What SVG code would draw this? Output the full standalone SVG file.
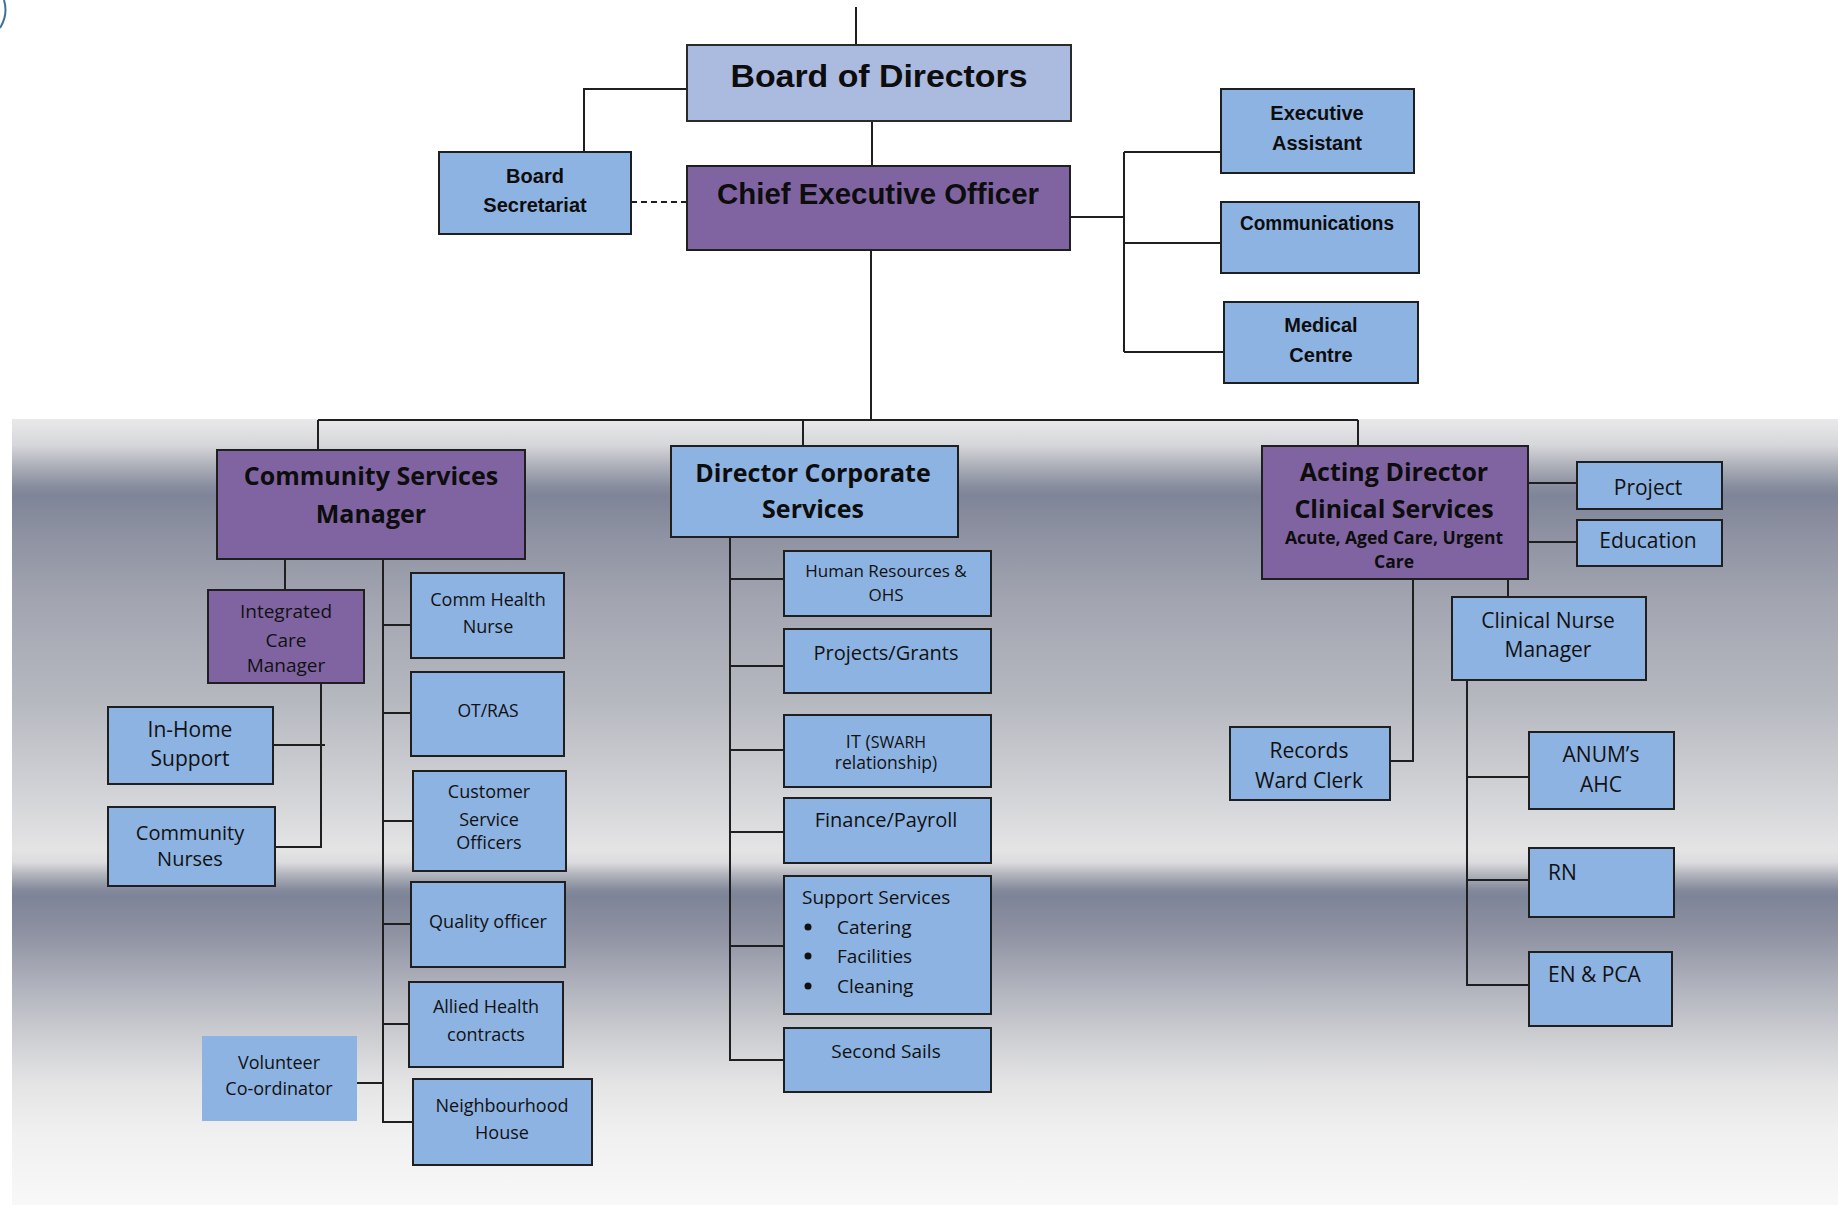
<svg xmlns="http://www.w3.org/2000/svg" width="1838" height="1205" viewBox="0 0 1838 1205">
<defs>
<linearGradient id="bg" gradientUnits="userSpaceOnUse" x1="0" y1="419" x2="0" y2="1205">
<stop offset="0" stop-color="#e9e9eb"/>
<stop offset="0.033" stop-color="#d6d7da"/>
<stop offset="0.061" stop-color="#abaeb7"/>
<stop offset="0.087" stop-color="#868c9d"/>
<stop offset="0.099" stop-color="#7f8598"/>
<stop offset="0.145" stop-color="#8d91a1"/>
<stop offset="0.230" stop-color="#a2a5b0"/>
<stop offset="0.357" stop-color="#b6b8c0"/>
<stop offset="0.485" stop-color="#d4d5d8"/>
<stop offset="0.548" stop-color="#e4e4e5"/>
<stop offset="0.564" stop-color="#dcdcdf"/>
<stop offset="0.580" stop-color="#b0b3bb"/>
<stop offset="0.599" stop-color="#848a9c"/>
<stop offset="0.608" stop-color="#7e8498"/>
<stop offset="0.654" stop-color="#8e92a2"/>
<stop offset="0.718" stop-color="#aeb1bb"/>
<stop offset="0.781" stop-color="#cbccd0"/>
<stop offset="0.845" stop-color="#e4e4e5"/>
<stop offset="0.908" stop-color="#f0f0f0"/>
<stop offset="1" stop-color="#f8f8f8"/>
</linearGradient>
<clipPath id="icmclip"><rect x="208" y="590" width="156" height="92"/></clipPath>
</defs>
<style>
.b{fill:#8db3e2;stroke:#1f1f1f;stroke-width:2}
.p{fill:#8064a2;stroke:#1f1f1f;stroke-width:2}
.bd{fill:#abbadf;stroke:#2a2a2a;stroke-width:2}
.c{fill:none;stroke:#1f1f1f;stroke-width:2}
.t{font-family:"Liberation Sans",Arial,sans-serif;font-weight:bold;fill:#0d0d0d;text-anchor:middle}
.s{font-family:"Open Sans","Noto Sans",sans-serif;fill:#111111;text-anchor:middle}
.sb{font-family:"Open Sans","Noto Sans",sans-serif;font-weight:bold;fill:#0d0d0d;text-anchor:middle}
.l{text-anchor:start}
</style>
<rect x="0" y="0" width="1838" height="1205" fill="#ffffff"/>
<rect x="12" y="419" width="1826" height="786" fill="url(#bg)"/>
<path d="M4,0 C7,10 5,20 0,28" fill="none" stroke="#3f7199" stroke-width="2"/>

<g id="connectors">
<path class="c" d="M856,7 V45"/>
<path class="c" d="M688,89 H584 V152"/>
<path class="c" d="M872,121 V166"/>
<path class="c" d="M631,202 H688" stroke-dasharray="6,4"/>
<path class="c" d="M1070,217 H1124"/>
<path class="c" d="M1124,152 V352"/>
<path class="c" d="M1124,152 H1221 M1124,243 H1221 M1124,352 H1224"/>
<path class="c" d="M871,250 V420"/>
<path class="c" d="M318,420 H1358"/>
<path class="c" d="M318,420 V450 M803,420 V446 M1358,420 V446"/>
<path class="c" d="M285,559 V590"/>
<path class="c" d="M321,683 V847 H275"/>
<path class="c" d="M273,745 H325"/>
<path class="c" d="M383,559 V1122 H413"/>
<path class="c" d="M383,625 H411 M383,713 H411 M383,821 H413 M383,924 H411 M383,1024 H409 M357,1083 H383"/>
<path class="c" d="M730,537 V1060 H784"/>
<path class="c" d="M730,579 H784 M730,666 H784 M730,750 H784 M730,832 H784 M730,946 H784"/>
<path class="c" d="M1528,483 H1577 M1528,542 H1577"/>
<path class="c" d="M1508,579 V597"/>
<path class="c" d="M1413,579 V761 H1390"/>
<path class="c" d="M1467,680 V985 H1529"/>
<path class="c" d="M1467,777 H1529 M1467,880 H1529"/>
</g>

<g id="board"><rect class="bd" x="687" y="45" width="384" height="76"/><text class="t" x="879" y="87" font-size="32" textLength="297" lengthAdjust="spacingAndGlyphs">Board of Directors</text></g>
<g id="ceo"><rect class="p" x="687" y="166" width="383" height="84"/><text class="t" x="878" y="204" font-size="29" textLength="322" lengthAdjust="spacingAndGlyphs">Chief Executive Officer</text></g>
<g id="board-secretariat"><rect class="b" x="439" y="152" width="192" height="82"/><text class="t" x="535" y="183" font-size="20">Board</text><text class="t" x="535" y="212" font-size="20">Secretariat</text></g>
<g id="executive-assistant"><rect class="b" x="1221" y="89" width="193" height="84"/><text class="t" x="1317" y="120" font-size="20">Executive</text><text class="t" x="1317" y="150" font-size="20">Assistant</text></g>
<g id="communications"><rect class="b" x="1221" y="202" width="198" height="71"/><text class="t" x="1317" y="230" font-size="20" textLength="154" lengthAdjust="spacingAndGlyphs">Communications</text></g>
<g id="medical-centre"><rect class="b" x="1224" y="302" width="194" height="81"/><text class="t" x="1321" y="332" font-size="20">Medical</text><text class="t" x="1321" y="362" font-size="20">Centre</text></g>

<g id="community-services-manager"><rect class="p" x="217" y="450" width="308" height="109"/><text class="sb" x="371" y="485" font-size="25">Community Services</text><text class="sb" x="371" y="523" font-size="25">Manager</text></g>
<g id="integrated-care-manager"><rect class="p" x="208" y="590" width="156" height="93"/><g clip-path="url(#icmclip)"><text class="s" x="286" y="618" font-size="19">Integrated</text><text class="s" x="286" y="647" font-size="19">Care</text><text class="s" x="286" y="672" font-size="19">Manager</text></g></g>
<g id="in-home-support"><rect class="b" x="108" y="707" width="165" height="77"/><text class="s" x="190" y="737" font-size="21">In-Home</text><text class="s" x="190" y="766" font-size="21">Support</text></g>
<g id="community-nurses"><rect class="b" x="108" y="807" width="167" height="79"/><text class="s" x="190" y="840" font-size="20">Community</text><text class="s" x="190" y="866" font-size="20">Nurses</text></g>
<g id="comm-health-nurse"><rect class="b" x="411" y="573" width="153" height="85"/><text class="s" x="488" y="606" font-size="18">Comm Health</text><text class="s" x="488" y="633" font-size="18">Nurse</text></g>
<g id="ot-ras"><rect class="b" x="411" y="672" width="153" height="84"/><text class="s" x="488" y="717" font-size="17.5">OT/RAS</text></g>
<g id="customer-service-officers"><rect class="b" x="413" y="771" width="153" height="100"/><text class="s" x="489" y="798" font-size="18">Customer</text><text class="s" x="489" y="826" font-size="18">Service</text><text class="s" x="489" y="849" font-size="18">Officers</text></g>
<g id="quality-officer"><rect class="b" x="411" y="882" width="154" height="85"/><text class="s" x="488" y="928" font-size="18">Quality officer</text></g>
<g id="allied-health-contracts"><rect class="b" x="409" y="982" width="154" height="85"/><text class="s" x="486" y="1013" font-size="18">Allied Health</text><text class="s" x="486" y="1041" font-size="18">contracts</text></g>
<g id="neighbourhood-house"><rect class="b" x="413" y="1079" width="179" height="86"/><text class="s" x="502" y="1112" font-size="18">Neighbourhood</text><text class="s" x="502" y="1139" font-size="18">House</text></g>
<g id="volunteer-coordinator"><rect x="202" y="1036" width="155" height="85" fill="#8db3e2"/><text class="s" x="279" y="1069" font-size="18">Volunteer</text><text class="s" x="279" y="1095" font-size="18">Co-ordinator</text></g>

<g id="director-corporate-services"><rect class="b" x="671" y="446" width="287" height="91"/><text class="sb" x="813" y="482" font-size="25">Director Corporate</text><text class="sb" x="813" y="518" font-size="25">Services</text></g>
<g id="hr-ohs"><rect class="b" x="784" y="551" width="207" height="65"/><text class="s" x="886" y="577" font-size="17">Human Resources &amp;</text><text class="s" x="886" y="601" font-size="17">OHS</text></g>
<g id="projects-grants"><rect class="b" x="784" y="629" width="207" height="64"/><text class="s" x="886" y="660" font-size="20">Projects/Grants</text></g>
<g id="it-swarh"><rect class="b" x="784" y="715" width="207" height="72"/><text class="s" x="886" y="748" font-size="18">IT (<tspan font-size="16">SWARH</tspan></text><text class="s" x="886" y="769" font-size="17.5">relationship)</text></g>
<g id="finance-payroll"><rect class="b" x="784" y="798" width="207" height="65"/><text class="s" x="886" y="827" font-size="20">Finance/Payroll</text></g>
<g id="support-services"><rect class="b" x="784" y="876" width="207" height="138"/><text class="s l" x="802" y="904" font-size="19">Support Services</text><circle cx="808" cy="927" r="3.5" fill="#111"/><circle cx="808" cy="956" r="3.5" fill="#111"/><circle cx="808" cy="986" r="3.5" fill="#111"/><text class="s l" x="837" y="934" font-size="19">Catering</text><text class="s l" x="837" y="963" font-size="19">Facilities</text><text class="s l" x="837" y="993" font-size="19">Cleaning</text></g>
<g id="second-sails"><rect class="b" x="784" y="1028" width="207" height="64"/><text class="s" x="886" y="1058" font-size="19">Second Sails</text></g>

<g id="acting-director-clinical-services"><rect class="p" x="1262" y="446" width="266" height="133"/><text class="sb" x="1394" y="481" font-size="25">Acting Director</text><text class="sb" x="1394" y="518" font-size="25">Clinical Services</text><text class="sb" x="1394" y="544" font-size="17.5">Acute, Aged Care, Urgent</text><text class="sb" x="1394" y="568" font-size="17.5">Care</text></g>
<g id="project"><rect class="b" x="1577" y="462" width="145" height="47"/><text class="s" x="1648" y="495" font-size="21">Project</text></g>
<g id="education"><rect class="b" x="1577" y="520" width="145" height="46"/><text class="s" x="1648" y="548" font-size="21">Education</text></g>
<g id="clinical-nurse-manager"><rect class="b" x="1452" y="597" width="194" height="83"/><text class="s" x="1548" y="628" font-size="21">Clinical Nurse</text><text class="s" x="1548" y="657" font-size="21">Manager</text></g>
<g id="records-ward-clerk"><rect class="b" x="1230" y="727" width="160" height="73"/><text class="s" x="1309" y="758" font-size="21">Records</text><text class="s" x="1309" y="788" font-size="21">Ward Clerk</text></g>
<g id="anums-ahc"><rect class="b" x="1529" y="732" width="145" height="77"/><text class="s" x="1601" y="762" font-size="21">ANUM’s</text><text class="s" x="1601" y="792" font-size="21">AHC</text></g>
<g id="rn"><rect class="b" x="1529" y="848" width="145" height="69"/><text class="s l" x="1548" y="880" font-size="21">RN</text></g>
<g id="en-pca"><rect class="b" x="1529" y="952" width="143" height="74"/><text class="s l" x="1548" y="982" font-size="21">EN &amp; PCA</text></g>
</svg>
